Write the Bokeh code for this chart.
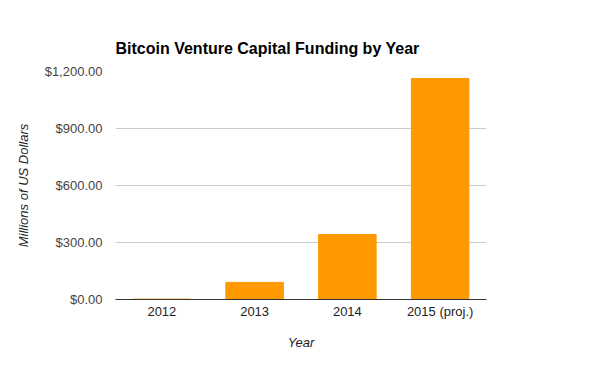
from bokeh.plotting import figure
from bokeh.models import Range1d, FixedTicker, NumeralTickFormatter
from bokeh.embed import file_html
from bokeh.resources import INLINE

years = ["2012", "2013", "2014", "2015 (proj.)"]
funding = [2, 90, 342, 1163]
y_ticks = [0, 300, 600, 900, 1200]

FONT = "Liberation Sans"

p = figure(x_range=years, y_range=Range1d(0, 1200), width=600, height=371,
           output_backend="svg", toolbar_location=None,
           min_border_left=115, min_border_right=114,
           min_border_top=71, min_border_bottom=72)
p.outline_line_color = None

p.vbar(x=years, top=funding, width=0.62, color="#ff9900")

p.title.text = "Bitcoin Venture Capital Funding by Year"
p.title.text_font = FONT
p.title.text_font_size = "16px"
p.title.text_font_style = "bold"
p.title.text_color = "#000000"
p.title.align = "left"
p.title.offset = 0
p.title.standoff = 29

p.xgrid.grid_line_color = None
p.ygrid.grid_line_color = "#cccccc"
p.yaxis.ticker = FixedTicker(ticks=y_ticks)
p.yaxis.formatter = NumeralTickFormatter(format="$0,0.00")
p.yaxis.axis_line_color = None
p.yaxis.major_tick_line_color = None
p.yaxis.minor_tick_line_color = None
p.yaxis.major_tick_out = 0
p.yaxis.major_label_standoff = 13
p.yaxis.major_label_text_font = FONT
p.yaxis.major_label_text_font_size = "13px"
p.yaxis.major_label_text_color = "#444444"
p.yaxis.axis_label = "Millions of US Dollars"
p.yaxis.axis_label_text_font = FONT
p.yaxis.axis_label_text_font_size = "13px"
p.yaxis.axis_label_text_font_style = "italic"
p.yaxis.axis_label_text_color = "#222222"
p.yaxis.axis_label_standoff = 11

p.xaxis.axis_line_color = "#333333"
p.xaxis.major_tick_line_color = None
p.xaxis.minor_tick_line_color = None
p.xaxis.major_tick_out = 0
p.xaxis.major_label_standoff = 4
p.xaxis.major_label_text_font = FONT
p.xaxis.major_label_text_font_size = "13px"
p.xaxis.major_label_text_color = "#222222"
p.xaxis.axis_label = "Year"
p.xaxis.axis_label_text_font = FONT
p.xaxis.axis_label_text_font_size = "13px"
p.xaxis.axis_label_text_font_style = "italic"
p.xaxis.axis_label_text_color = "#222222"
p.xaxis.axis_label_standoff = 13

open("out.html", "w").write(file_html(p, INLINE))
